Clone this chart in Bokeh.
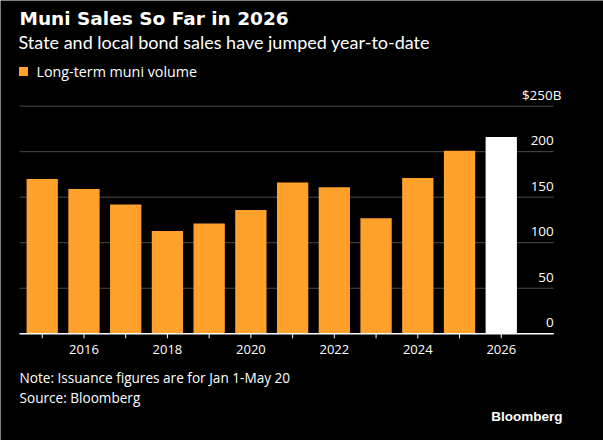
from bokeh.plotting import figure
from bokeh.models import Range1d
from bokeh.core.properties import value
from bokeh.embed import file_html
from bokeh.resources import INLINE

# Long-term municipal bond volume, Jan 1 - May 20 of each year ($B)
years = [2015, 2016, 2017, 2018, 2019, 2020, 2021, 2022, 2023, 2024, 2025, 2026]
volume = [170, 159, 142, 113, 121, 136, 166, 161, 127, 171, 201, 216]
bar_colors = ["#FFA12B"] * 11 + ["#FFFFFF"]

label_years = [2016, 2018, 2020, 2022, 2024, 2026]
y_ticks = [0, 50, 100, 150, 200]
y_tick_labels = ["0", "50", "100", "150", "200"]
top_tick = 250
top_tick_label = "$250B"

TITLE_FONT = "DejaVu Sans"
SUB_FONT = "Lato"
FONT = "Open Sans"
BRAND_FONT = "Liberation Sans"
W, H = 603, 440

# canvas-pixel <-> data conversion (the frame fills the whole canvas)
PX_PER_YEAR = 41.73
PX_PER_UNIT = 0.9107
BASE_PX = 333.3
X0 = 2014.0


def dx(px):
    return X0 + px / PX_PER_YEAR


def dy(py):
    return (BASE_PX - py) / PX_PER_UNIT


p = figure(
    width=W, height=H,
    x_range=Range1d(dx(0), dx(W)),
    y_range=Range1d(dy(H), dy(0)),
    x_axis_location=None, y_axis_location=None,
    toolbar_location=None, output_backend="svg",
    min_border=0, outline_line_color=None,
    background_fill_color="#000000", border_fill_color="#000000",
)
p.xgrid.visible = False
p.ygrid.visible = False

x_left, x_right = dx(19), dx(553.3)

# horizontal gridlines
grid_vals = [v for v in y_ticks if v > 0] + [top_tick]
p.segment(x0=[x_left] * len(grid_vals), x1=[x_right] * len(grid_vals),
          y0=grid_vals, y1=grid_vals, line_color="#4a4a4a", line_width=1)

# bars
p.vbar(x=years, top=volume, bottom=0, width=0.75, fill_color=bar_colors,
       line_color=None)

# zero line and year ticks
p.segment(x0=[x_left], x1=[x_right], y0=[0], y1=[0], line_color="#FFFFFF",
          line_width=1.5)
tick_len = 4.5 / PX_PER_UNIT
p.segment(x0=years, x1=years, y0=[0] * len(years), y1=[-tick_len] * len(years),
          line_color="#FFFFFF", line_width=1)

# year labels
p.text(x=label_years, y=[dy(348.5)] * len(label_years),
       text=[str(y) for y in label_years], text_font=value(FONT),
       text_font_size="13px", text_color="#FFFFFF", text_align="center",
       text_baseline="middle")

# value labels sitting on the gridlines, right-aligned
lift = 11 / PX_PER_UNIT
p.text(x=[x_right] * len(y_ticks), y=[v + lift for v in y_ticks],
       text=y_tick_labels, text_font=value(FONT), text_font_size="13.5px",
       text_color="#FFFFFF", text_align="right", text_baseline="middle")
p.text(x=[dx(561)], y=[top_tick + lift], text=[top_tick_label],
       text_font=value(FONT), text_font_size="13.5px", text_color="#FFFFFF",
       text_align="right", text_baseline="middle")

# headline and subtitle
p.text(x=[dx(19)], y=[dy(18)], text=["Muni Sales So Far in 2026"],
       text_font=value(TITLE_FONT), text_font_size="18.5px",
       text_font_style="bold", text_color="#FFFFFF", text_align="left",
       text_baseline="middle")
p.text(x=[dx(18)], y=[dy(41)],
       text=["State and local bond sales have jumped year-to-date"],
       text_font=value(SUB_FONT), text_font_size="18px", text_color="#FFFFFF",
       text_align="left", text_baseline="middle")

# legend
p.scatter(x=[dx(23)], y=[dy(71)], marker="square", size=9,
          fill_color="#FFA12B", line_color=None)
p.text(x=[dx(36)], y=[dy(71)], text=["Long-term muni volume"],
       text_font=value(FONT), text_font_size="14.3px", text_color="#FFFFFF",
       text_align="left", text_baseline="middle")

# footnotes
p.text(x=[dx(19), dx(19)], y=[dy(377), dy(397)],
       text=["Note: Issuance figures are for Jan 1-May 20", "Source: Bloomberg"],
       text_font=value(FONT), text_font_size="13.6px", text_color="#FFFFFF",
       text_align="left", text_baseline="middle")
p.text(x=[dx(562)], y=[dy(416)], text=["Bloomberg"],
       text_font=value(BRAND_FONT), text_font_size="13.5px",
       text_font_style="bold", text_color="#FFFFFF", text_align="right",
       text_baseline="middle")

open("out.html", "w").write(file_html(p, INLINE))
